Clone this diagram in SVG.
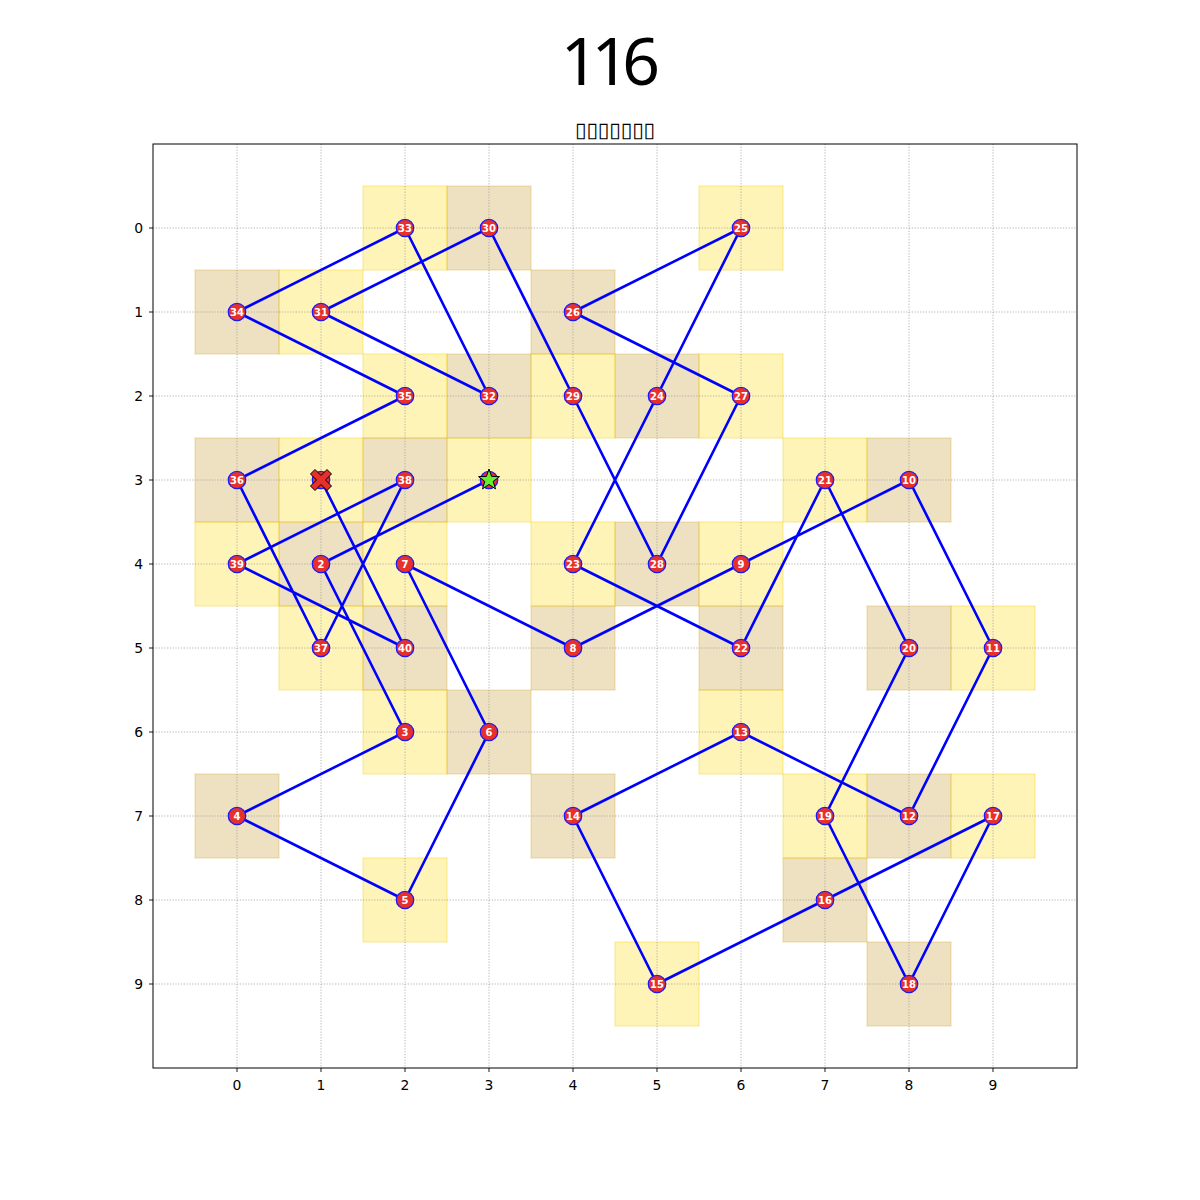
<svg xmlns="http://www.w3.org/2000/svg" width="1200" height="1200" viewBox="0 0 1200 1200">
<style>
.y{fill:#FFD700;fill-opacity:0.28;stroke:#F2C800;stroke-opacity:0.35;stroke-width:1.2}
.t{fill:#B8860B;fill-opacity:0.25;stroke:#D8B040;stroke-opacity:0.35;stroke-width:1.2}
.g{stroke:#a0a0a0;stroke-width:0.8;stroke-dasharray:1.2,1.6}
.n circle{fill:#e8302a;stroke:#1a1aff;stroke-width:1.3}
.n text{fill:#fff;font-family:"DejaVu Sans",sans-serif;font-weight:bold;font-size:10px;text-anchor:middle}
.tk{font-family:"DejaVu Sans",sans-serif;font-size:13.9px;fill:#000}
.tm{stroke:#000;stroke-width:0.9}
</style>
<rect width="1200" height="1200" fill="#fff"/>
<text x="607" y="85" font-family="Noto Sans, sans-serif" font-size="66" text-anchor="middle" letter-spacing="-7">116</text>
<text x="615" y="137" font-family="DejaVu Sans, sans-serif" font-size="21" text-anchor="middle" textLength="80" lengthAdjust="spacingAndGlyphs">▯▯▯▯▯▯▯</text>
<g id="cells">
<rect class="y" x="447" y="438" width="84" height="84"/>
<rect class="t" x="279" y="522" width="84" height="84"/>
<rect class="y" x="363" y="690" width="84" height="84"/>
<rect class="t" x="195" y="774" width="84" height="84"/>
<rect class="y" x="363" y="858" width="84" height="84"/>
<rect class="t" x="447" y="690" width="84" height="84"/>
<rect class="y" x="363" y="522" width="84" height="84"/>
<rect class="t" x="531" y="606" width="84" height="84"/>
<rect class="y" x="699" y="522" width="84" height="84"/>
<rect class="t" x="867" y="438" width="84" height="84"/>
<rect class="y" x="951" y="606" width="84" height="84"/>
<rect class="t" x="867" y="774" width="84" height="84"/>
<rect class="y" x="699" y="690" width="84" height="84"/>
<rect class="t" x="531" y="774" width="84" height="84"/>
<rect class="y" x="615" y="942" width="84" height="84"/>
<rect class="t" x="783" y="858" width="84" height="84"/>
<rect class="y" x="951" y="774" width="84" height="84"/>
<rect class="t" x="867" y="942" width="84" height="84"/>
<rect class="y" x="783" y="774" width="84" height="84"/>
<rect class="t" x="867" y="606" width="84" height="84"/>
<rect class="y" x="783" y="438" width="84" height="84"/>
<rect class="t" x="699" y="606" width="84" height="84"/>
<rect class="y" x="531" y="522" width="84" height="84"/>
<rect class="t" x="615" y="354" width="84" height="84"/>
<rect class="y" x="699" y="186" width="84" height="84"/>
<rect class="t" x="531" y="270" width="84" height="84"/>
<rect class="y" x="699" y="354" width="84" height="84"/>
<rect class="t" x="615" y="522" width="84" height="84"/>
<rect class="y" x="531" y="354" width="84" height="84"/>
<rect class="t" x="447" y="186" width="84" height="84"/>
<rect class="y" x="279" y="270" width="84" height="84"/>
<rect class="t" x="447" y="354" width="84" height="84"/>
<rect class="y" x="363" y="186" width="84" height="84"/>
<rect class="t" x="195" y="270" width="84" height="84"/>
<rect class="y" x="363" y="354" width="84" height="84"/>
<rect class="t" x="195" y="438" width="84" height="84"/>
<rect class="y" x="279" y="606" width="84" height="84"/>
<rect class="t" x="363" y="438" width="84" height="84"/>
<rect class="y" x="195" y="522" width="84" height="84"/>
<rect class="t" x="363" y="606" width="84" height="84"/>
<rect class="y" x="279" y="438" width="84" height="84"/>
</g>
<g id="grid">
<line class="g" x1="237" y1="144" x2="237" y2="1068"/>
<line class="g" x1="321" y1="144" x2="321" y2="1068"/>
<line class="g" x1="405" y1="144" x2="405" y2="1068"/>
<line class="g" x1="489" y1="144" x2="489" y2="1068"/>
<line class="g" x1="573" y1="144" x2="573" y2="1068"/>
<line class="g" x1="657" y1="144" x2="657" y2="1068"/>
<line class="g" x1="741" y1="144" x2="741" y2="1068"/>
<line class="g" x1="825" y1="144" x2="825" y2="1068"/>
<line class="g" x1="909" y1="144" x2="909" y2="1068"/>
<line class="g" x1="993" y1="144" x2="993" y2="1068"/>
<line class="g" x1="153" y1="228" x2="1077" y2="228"/>
<line class="g" x1="153" y1="312" x2="1077" y2="312"/>
<line class="g" x1="153" y1="396" x2="1077" y2="396"/>
<line class="g" x1="153" y1="480" x2="1077" y2="480"/>
<line class="g" x1="153" y1="564" x2="1077" y2="564"/>
<line class="g" x1="153" y1="648" x2="1077" y2="648"/>
<line class="g" x1="153" y1="732" x2="1077" y2="732"/>
<line class="g" x1="153" y1="816" x2="1077" y2="816"/>
<line class="g" x1="153" y1="900" x2="1077" y2="900"/>
<line class="g" x1="153" y1="984" x2="1077" y2="984"/>
</g>
<g id="axes">
<rect x="153" y="144" width="924" height="924" fill="none" stroke="#000" stroke-width="1"/>
<g class="tm">
<line x1="237" y1="1068" x2="237" y2="1072"/><line x1="321" y1="1068" x2="321" y2="1072"/><line x1="405" y1="1068" x2="405" y2="1072"/><line x1="489" y1="1068" x2="489" y2="1072"/><line x1="573" y1="1068" x2="573" y2="1072"/><line x1="657" y1="1068" x2="657" y2="1072"/><line x1="741" y1="1068" x2="741" y2="1072"/><line x1="825" y1="1068" x2="825" y2="1072"/><line x1="909" y1="1068" x2="909" y2="1072"/><line x1="993" y1="1068" x2="993" y2="1072"/>
<line x1="149" y1="228" x2="153" y2="228"/><line x1="149" y1="312" x2="153" y2="312"/><line x1="149" y1="396" x2="153" y2="396"/><line x1="149" y1="480" x2="153" y2="480"/><line x1="149" y1="564" x2="153" y2="564"/><line x1="149" y1="648" x2="153" y2="648"/><line x1="149" y1="732" x2="153" y2="732"/><line x1="149" y1="816" x2="153" y2="816"/><line x1="149" y1="900" x2="153" y2="900"/><line x1="149" y1="984" x2="153" y2="984"/>
</g>
<g class="tk" text-anchor="middle">
<text x="237" y="1090">0</text><text x="321" y="1090">1</text><text x="405" y="1090">2</text><text x="489" y="1090">3</text><text x="573" y="1090">4</text><text x="657" y="1090">5</text><text x="741" y="1090">6</text><text x="825" y="1090">7</text><text x="909" y="1090">8</text><text x="993" y="1090">9</text>
</g>
<g class="tk" text-anchor="end">
<text x="143" y="233">0</text><text x="143" y="317">1</text><text x="143" y="401">2</text><text x="143" y="485">3</text><text x="143" y="569">4</text><text x="143" y="653">5</text><text x="143" y="737">6</text><text x="143" y="821">7</text><text x="143" y="905">8</text><text x="143" y="989">9</text>
</g>
</g>
<g id="connectors">
<polyline fill="none" stroke="#0000ff" stroke-width="2.6" stroke-linejoin="round" points="489,480 321,564 405,732 237,816 405,900 489,732 405,564 573,648 741,564 909,480 993,648 909,816 741,732 573,816 657,984 825,900 993,816 909,984 825,816 909,648 825,480 741,648 573,564 657,396 741,228 573,312 741,396 657,564 573,396 489,228 321,312 489,396 405,228 237,312 405,396 237,480 321,648 405,480 237,564 405,648 321,480"/>
</g>
<g id="nodes">
<g id="n1" class="n"><circle cx="489" cy="480" r="8.7"/></g>
<g id="n2" class="n"><circle cx="321" cy="564" r="8.7"/><text x="321" y="567.6">2</text></g>
<g id="n3" class="n"><circle cx="405" cy="732" r="8.7"/><text x="405" y="735.6">3</text></g>
<g id="n4" class="n"><circle cx="237" cy="816" r="8.7"/><text x="237" y="819.6">4</text></g>
<g id="n5" class="n"><circle cx="405" cy="900" r="8.7"/><text x="405" y="903.6">5</text></g>
<g id="n6" class="n"><circle cx="489" cy="732" r="8.7"/><text x="489" y="735.6">6</text></g>
<g id="n7" class="n"><circle cx="405" cy="564" r="8.7"/><text x="405" y="567.6">7</text></g>
<g id="n8" class="n"><circle cx="573" cy="648" r="8.7"/><text x="573" y="651.6">8</text></g>
<g id="n9" class="n"><circle cx="741" cy="564" r="8.7"/><text x="741" y="567.6">9</text></g>
<g id="n10" class="n"><circle cx="909" cy="480" r="8.7"/><text x="909" y="483.6">10</text></g>
<g id="n11" class="n"><circle cx="993" cy="648" r="8.7"/><text x="993" y="651.6">11</text></g>
<g id="n12" class="n"><circle cx="909" cy="816" r="8.7"/><text x="909" y="819.6">12</text></g>
<g id="n13" class="n"><circle cx="741" cy="732" r="8.7"/><text x="741" y="735.6">13</text></g>
<g id="n14" class="n"><circle cx="573" cy="816" r="8.7"/><text x="573" y="819.6">14</text></g>
<g id="n15" class="n"><circle cx="657" cy="984" r="8.7"/><text x="657" y="987.6">15</text></g>
<g id="n16" class="n"><circle cx="825" cy="900" r="8.7"/><text x="825" y="903.6">16</text></g>
<g id="n17" class="n"><circle cx="993" cy="816" r="8.7"/><text x="993" y="819.6">17</text></g>
<g id="n18" class="n"><circle cx="909" cy="984" r="8.7"/><text x="909" y="987.6">18</text></g>
<g id="n19" class="n"><circle cx="825" cy="816" r="8.7"/><text x="825" y="819.6">19</text></g>
<g id="n20" class="n"><circle cx="909" cy="648" r="8.7"/><text x="909" y="651.6">20</text></g>
<g id="n21" class="n"><circle cx="825" cy="480" r="8.7"/><text x="825" y="483.6">21</text></g>
<g id="n22" class="n"><circle cx="741" cy="648" r="8.7"/><text x="741" y="651.6">22</text></g>
<g id="n23" class="n"><circle cx="573" cy="564" r="8.7"/><text x="573" y="567.6">23</text></g>
<g id="n24" class="n"><circle cx="657" cy="396" r="8.7"/><text x="657" y="399.6">24</text></g>
<g id="n25" class="n"><circle cx="741" cy="228" r="8.7"/><text x="741" y="231.6">25</text></g>
<g id="n26" class="n"><circle cx="573" cy="312" r="8.7"/><text x="573" y="315.6">26</text></g>
<g id="n27" class="n"><circle cx="741" cy="396" r="8.7"/><text x="741" y="399.6">27</text></g>
<g id="n28" class="n"><circle cx="657" cy="564" r="8.7"/><text x="657" y="567.6">28</text></g>
<g id="n29" class="n"><circle cx="573" cy="396" r="8.7"/><text x="573" y="399.6">29</text></g>
<g id="n30" class="n"><circle cx="489" cy="228" r="8.7"/><text x="489" y="231.6">30</text></g>
<g id="n31" class="n"><circle cx="321" cy="312" r="8.7"/><text x="321" y="315.6">31</text></g>
<g id="n32" class="n"><circle cx="489" cy="396" r="8.7"/><text x="489" y="399.6">32</text></g>
<g id="n33" class="n"><circle cx="405" cy="228" r="8.7"/><text x="405" y="231.6">33</text></g>
<g id="n34" class="n"><circle cx="237" cy="312" r="8.7"/><text x="237" y="315.6">34</text></g>
<g id="n35" class="n"><circle cx="405" cy="396" r="8.7"/><text x="405" y="399.6">35</text></g>
<g id="n36" class="n"><circle cx="237" cy="480" r="8.7"/><text x="237" y="483.6">36</text></g>
<g id="n37" class="n"><circle cx="321" cy="648" r="8.7"/><text x="321" y="651.6">37</text></g>
<g id="n38" class="n"><circle cx="405" cy="480" r="8.7"/><text x="405" y="483.6">38</text></g>
<g id="n39" class="n"><circle cx="237" cy="564" r="8.7"/><text x="237" y="567.6">39</text></g>
<g id="n40" class="n"><circle cx="405" cy="648" r="8.7"/><text x="405" y="651.6">40</text></g>
<g id="n41" class="n"><circle cx="321" cy="480" r="8.7"/></g>
</g>
<g id="markers">
<polygon id="start" points="489,469 491.6,476.4 499.5,476.6 493.2,481.4 495.5,488.9 489,484.4 482.5,488.9 484.8,481.4 478.5,476.6 486.4,476.4" fill="#66ee33" stroke="#000" stroke-width="1"/>
<polygon id="end" points="310.5,474 315,469.5 321,475.5 327,469.5 331.5,474 325.5,480 331.5,486 327,490.5 321,484.5 315,490.5 310.5,486 316.5,480" fill="#e8302a" stroke="#000" stroke-width="1" stroke-linejoin="round"/>
</g>
</svg>
